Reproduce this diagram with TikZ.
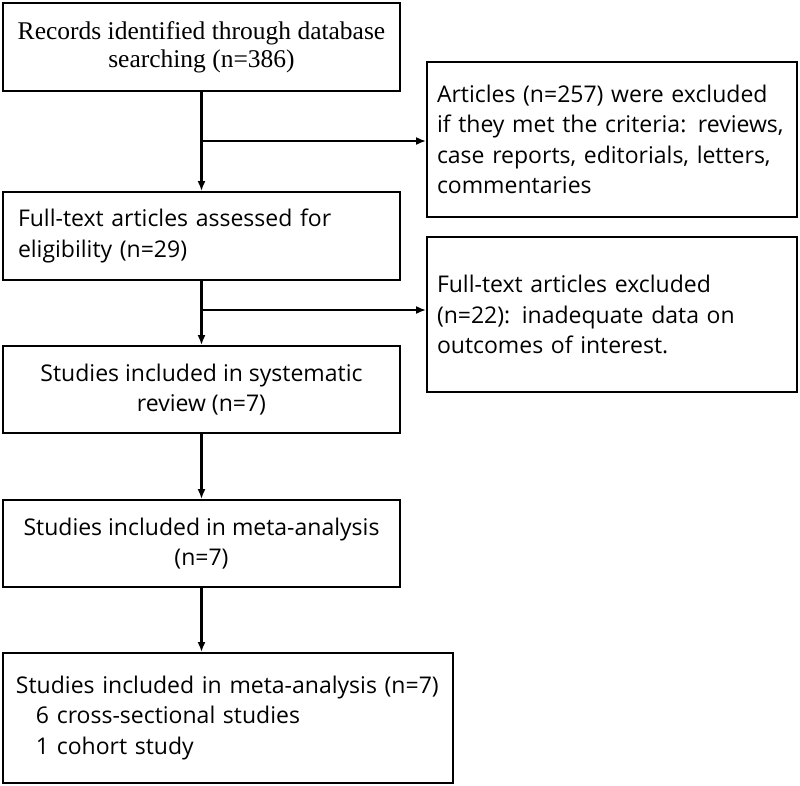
\documentclass[tikz,border=0pt]{standalone}
\usepackage{fontspec}
\setmainfont{Open Sans}
\newfontfamily\recfont{Liberation Serif}
\usetikzlibrary{arrows.meta}
\begin{document}
\begin{tikzpicture}[x=1pt,y=-1pt,
	every node/.style={draw,rectangle,line width=1.8pt,inner sep=0pt,font=\fontsize{23}{30.5}\selectfont},
	link/.style={draw,line width=2.2pt,-{Latex[length=10pt,width=8pt]}}]
	\useasboundingbox (0,0) rectangle (800,785);
	\node[minimum width=397,minimum height=88,align=center,font=\recfont\fontsize{25.5}{28}\selectfont] (rec) at (201.5,47) {Records identified through database\\searching (n=386)};
	\node[minimum width=397,minimum height=88,text width=367,align=left] (full) at (201.5,236) {Full-text articles assessed for\\eligibility (n=29)};
	\node[minimum width=397,minimum height=87,align=center] (sys) at (201.5,389.5) {Studies included in systematic\\review (n=7)};
	\node[minimum width=397,minimum height=87,align=center] (meta) at (201.5,543.5) {Studies included in meta-analysis\\(n=7)};
	\node[minimum width=450,minimum height=130,text width=424,align=left] (fin) at (228,718) {Studies included in meta-analysis (n=7)\\\hspace*{20pt}6 cross-sectional studies\\\hspace*{20pt}1 cohort study};
	\node[minimum width=370,minimum height=155,text width=350,align=left] (exc1) at (612,139.5) {Articles (n=257) were excluded\\if they met the criteria: reviews,\\case reports, editorials, letters,\\commentaries};
	\node[minimum width=370,minimum height=155,text width=350,align=left] (exc2) at (612,314.5) {Full-text articles excluded\\(n=22): inadequate data on\\outcomes of interest.};
	\coordinate (b1) at (rec.south |- 0,141);
	\coordinate (b2) at (full.south |- 0,310);

	\path[link] (rec) -- (full);
	\path[link] (b1) -- (b1 -| exc1.west);
	\path[link] (full) -- (sys);
	\path[link] (b2) -- (b2 -| exc2.west);
	\path[link] (sys) -- (meta);
	\path[link] (meta.south) -- (meta.south |- fin.north);
\end{tikzpicture}
\end{document}
